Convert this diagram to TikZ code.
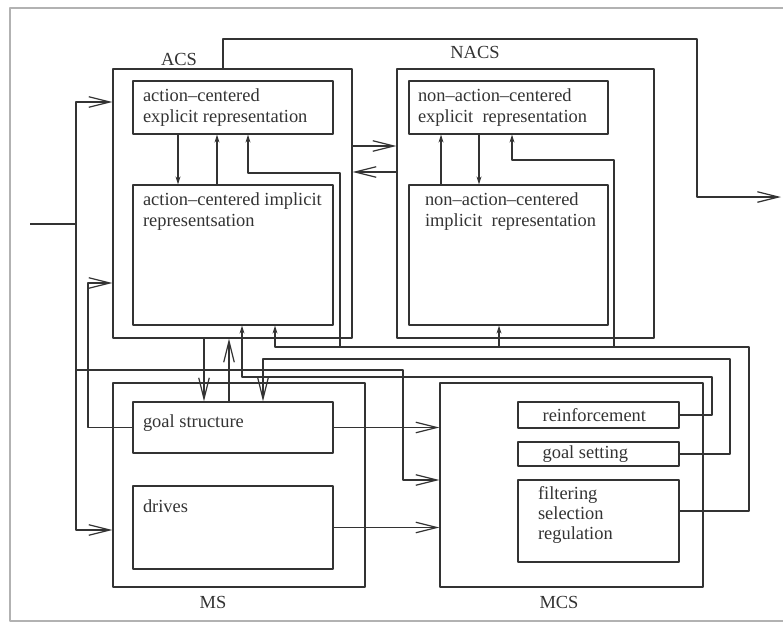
\documentclass[tikz,border=0pt]{standalone}
\usepackage{fontspec}
\setmainfont{Liberation Serif}
\usetikzlibrary{arrows.meta,fit,positioning}

\begin{document}
\begin{tikzpicture}[x=0.02cm, y=-0.02cm, line join=round, line width=0.7pt,
		color=black!80, font=\fontsize{10.5}{11.5}\selectfont,
		box/.style={draw, inner sep=0pt},
		txt/.style={anchor=north west, inner sep=0pt, align=left},
		bigarr/.style={-{Straight Barb[length=12pt,width=6pt]}},
		smallarr/.style={-{Stealth[length=4.5pt,width=2.8pt]}}]
	\useasboundingbox (0,0) rectangle (783,623);
	% page frame
	\draw[gray!60, line width=0.8pt] (790,8) -- (10,8) -- (10,621) -- (790,621);
	% subsystems
	\node[box, fit={(113,69) (352,338)}] (acs) {};
	\node[box, fit={(397,69) (654,338)}] (nacs) {};
	\node[box, fit={(113,383) (365,587)}] (ms) {};
	\node[box, fit={(440,383) (703,587)}] (mcs) {};
	\node (acslbl) at (179,59) {ACS};
	\node (nacslbl) at (475,52) {NACS};
	\node (mslbl) at (213,602) {MS};
	\node (mcslbl) at (559,602) {MCS};
	% modules
	\node[box, fit={(133,81) (333,134)}] (acsexp) {};
	\node[box, fit={(133,185) (333,325)}] (acsimp) {};
	\node[box, fit={(409,81) (608,134)}] (nacsexp) {};
	\node[box, fit={(409,185) (608,325)}] (nacsimp) {};
	\node[box, fit={(133,402) (333,453)}] (goal) {};
	\node[box, fit={(133,486) (333,569)}] (drives) {};
	\node[box, fit={(518,402) (679,428)}] (reinf) {};
	\node[box, fit={(518,442) (679,466)}] (gset) {};
	\node[box, fit={(518,480) (679,562)}] (filt) {};
	\node[txt] (acsexptxt) at ([shift={(10,8)}]acsexp.north west) {action--centered\\explicit representation};
	\node[txt] (acsimptxt) at ([shift={(10,8)}]acsimp.north west) {action--centered implicit\\representsation};
	\node[txt] (nacsexptxt) at ([shift={(9,8)}]nacsexp.north west) {non--action--centered\\explicit \ representation};
	\node[txt] (nacsimptxt) at ([shift={(16,8)}]nacsimp.north west) {non--action--centered\\implicit \ representation};
	\node[txt] (goaltxt) at ([shift={(10,13)}]goal.north west) {goal structure};
	\node[txt] (drivestxt) at ([shift={(10,14)}]drives.north west) {drives};
	\node[txt, anchor=west] (reinftxt) at ([xshift=20\pgflinewidth]reinf.west) {reinforcement};
	\node[txt, anchor=west] (gsettxt) at ([xshift=20\pgflinewidth]gset.west) {goal setting};
	\node[txt] (filttxt) at ([shift={(20,6)}]filt.north west) {filtering\\selection\\regulation};
	% input
	\coordinate (input) at (30,224);
	\coordinate (bus) at (76,224);
	\draw (input) -- (bus);
	\draw[bigarr] (bus) |- (acs.west |- 0,102);
	\draw[bigarr] (bus) |- (76,370) -| (403,480) -- (mcs.west |- 0,480);
	\draw[bigarr] (bus) |- (ms.west |- 0,530);
	% goal structure out
	\draw[bigarr] (goal.west) -| (88,283) -- (acs.west |- 0,283);
	\draw[bigarr] (goal.east) -- (goal.east -| mcs.west);
	\draw[bigarr] (drives.east) -- (drives.east -| mcs.west);
	% ACS <-> NACS, action output
	\draw[bigarr] (acs.east |- 0,146) -- (nacs.west |- 0,146);
	\draw[bigarr] (nacs.west |- 0,172) -- (acs.east |- 0,172);
	\coordinate (output) at (781,197);
	\draw[bigarr] (acs.north -| 223,0) |- (697,39) |- (output);
	% inside ACS and NACS
	\draw[smallarr] (acsexp.south -| 178,0) -- (acsimp.north -| 178,0);
	\draw[smallarr] (acsimp.north -| 217,0) -- (acsexp.south -| 217,0);
	\draw[smallarr] (nacsimp.north -| 441,0) -- (nacsexp.south -| 441,0);
	\draw[smallarr] (nacsexp.south -| 479,0) -- (nacsimp.north -| 479,0);
	% ACS <-> MS
	\draw[bigarr] (acs.south -| 204,0) -- (goal.north -| 204,0);
	\draw[bigarr] (goal.north -| 229,0) -- (acs.south -| 229,0);
	% MCS feedback
	\draw[smallarr] (reinf.east) -| (712,377) -| (acsimp.south -| 242,0);
	\draw[bigarr] (gset.east) -| (730,359) -| (goal.north -| 263,0);
	\coordinate (filtout) at (filt.east |- 0,511);
	\draw[smallarr] (filtout) -| (749,347) -| (acsimp.south -| 275,0);
	\draw[smallarr] (499,347) -- (nacsimp.south -| 499,0);
	\draw[smallarr] (340,347) |- (248,173) -- (acsexp.south -| 248,0);
	\draw[smallarr] (614,347) |- (512,160) -- (nacsexp.south -| 512,0);
\end{tikzpicture}
\end{document}
